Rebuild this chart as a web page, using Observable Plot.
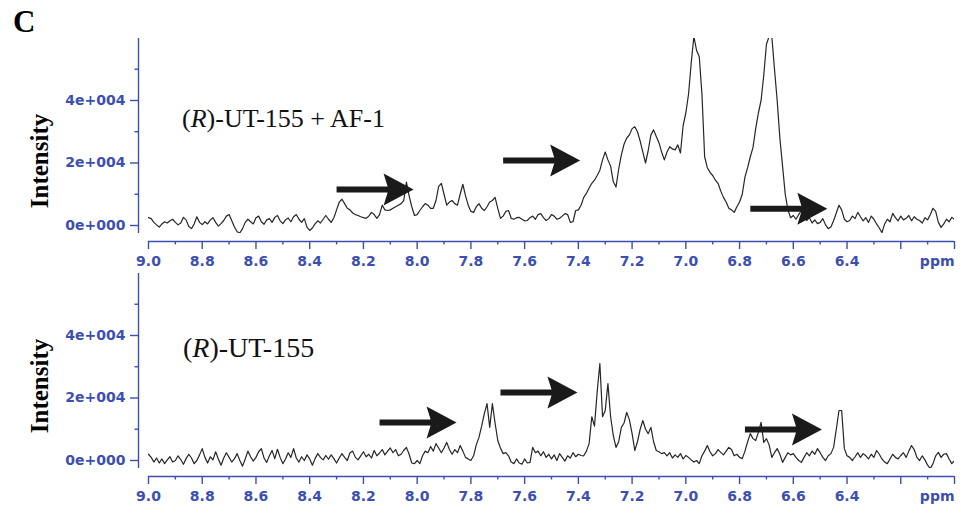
<!DOCTYPE html>
<html><head><meta charset="utf-8">
<script src="https://cdn.jsdelivr.net/npm/d3@7"></script>
<script src="https://cdn.jsdelivr.net/npm/@observablehq/plot@0.6"></script>
<style>
body{margin:0;background:#fff;}
#wrap{position:relative;width:963px;height:516px;overflow:hidden;background:#fff;}
#wrap svg{position:absolute;left:0;}
</style></head><body><div id="wrap"></div>
<script>
// chemical shift grid: 9.00 ppm down to 6.00 ppm, one value per 0.01 ppm
const ppmStart = 9.0;
const ppmStep = 0.01;

// intensities in units of 1e3
const topIntensity = [
  2.5, 2.2, 1.0, 0.2, -0.5, 0.5, 1.2, 0.8, 1.5, 2.0,
  1.0, 0.2, 0.8, 2.6, 1.8, -0.3, -1.0, 0.5, 2.8, 1.0,
  0.3, 1.2, 0.5, 1.8, 2.5, 1.0, -0.2, 0.6, 1.6, 3.0,
  3.5, 1.5, -0.5, -2.0, -2.4, -1.0, 1.0, 2.0, 1.2, 0.5,
  2.5, 3.0, 1.2, 0.4, 1.8, 2.2, 1.0, 2.6, 3.2, 1.5,
  0.6, 1.8, 2.4, 1.2, 2.8, 3.5, 2.0, 1.0, 2.2, -0.5,
  -1.6, -0.8, 0.5, 1.5, 0.8, 2.0, 3.2, 2.0, 1.0, 2.5,
  5.0, 7.5, 8.4, 7.0, 5.5, 5.0, 4.0, 3.5, 3.2, 2.8,
  2.5, 2.3, 3.0, 4.2, 3.5, 2.3, 3.5, 6.5, 5.0, 4.8,
  5.0, 5.5, 6.0, 6.5, 7.0, 8.0, 13.9, 9.5, 6.0, 3.2,
  3.5, 4.8, 6.0, 7.0, 6.5, 5.5, 5.5, 8.0, 12.5, 13.5,
  10.0, 6.5, 7.5, 8.0, 7.0, 6.5, 10.0, 13.2, 9.5, 6.5,
  4.5, 4.2, 6.0, 7.0, 5.5, 4.8, 6.0, 7.5, 8.0, 9.0,
  5.5, 2.3, 3.0, 4.5, 4.8, 2.3, 2.0, 2.5, 2.6, 2.0,
  1.5, 1.6, 2.5, 3.0, 2.0, 3.5, 3.8, 2.5, 1.6, 2.2,
  3.5, 3.0, 2.0, 2.3, 3.0, 3.8, 3.5, 1.0, 1.2, 4.8,
  5.0, 6.5, 9.0, 10.3, 12.0, 13.5, 14.5, 16.0, 17.7, 21.0,
  23.5, 21.0, 19.0, 14.0, 12.3, 18.0, 22.6, 26.0, 28.0, 29.0,
  31.0, 31.6, 30.0, 27.0, 23.5, 20.0, 24.0, 29.0, 30.6, 28.5,
  26.5, 23.5, 21.0, 23.5, 25.2, 24.5, 24.2, 25.8, 23.2, 32.0,
  36.0, 42.0, 52.0, 60.5, 56.0, 54.0, 42.0, 22.0, 18.5, 17.0,
  16.0, 14.5, 13.5, 11.0, 9.0, 7.5, 5.5, 5.0, 4.2, 6.0,
  7.5, 10.0, 15.5, 18.5, 22.0, 25.0, 31.0, 36.0, 40.0, 48.0,
  58.0, 60.5, 60.5, 50.0, 40.0, 28.0, 19.0, 10.0, 5.0, 2.5,
  3.2, 2.0, 3.5, 4.8, 3.0, 1.6, 2.5, 0.8, 1.8, 0.6,
  1.0, 2.2, 0.2, -1.0, -0.5, 1.5, 4.0, 6.5, 5.0, 2.0,
  1.2, 1.6, 3.0, 2.2, 4.2, 2.8, 1.5, 2.5, 1.0, 3.0,
  2.0, 0.5, -0.8, -2.3, 0.5, 2.0, 1.2, 3.9, 2.5, 1.5,
  3.0, 1.8, 2.3, 3.2, 1.5, 2.8, 2.0, 1.6, 0.8, 2.5,
  1.8, 3.5, 5.5, 4.5, 1.0, -0.6, 0.5, 2.0, 1.2, 2.6,
  2.0
];
const bottomIntensity = [
  2.0, 1.0, -0.5, 0.8, -0.8, 0.5, -1.0, 0.2, 1.2, -0.5,
  0.0, 1.5, 0.3, -1.2, 0.6, 2.0, 0.8, -1.0, 0.0, 1.8,
  3.8, 1.0, -0.8, 1.2, 0.2, 2.8, 0.5, -1.5, 0.8, 2.5,
  1.0, -0.5, 0.6, 2.2, 0.0, -1.8, 0.5, 3.0, 1.2, -0.2,
  1.0, 2.8, 3.8, 0.8, -0.6, 1.5, 3.2, 0.6, 3.6, 1.0,
  -1.0, 0.5, 2.5, 1.0, 3.8, 0.8, -0.5, 1.2, 0.0, 1.8,
  0.5, -1.5, 0.6, 2.2, 1.0, 0.2, 1.6, 0.4, 1.8, 0.6,
  -0.8, 0.8, 2.2, 1.0, 0.0, 2.5, 3.0, 1.0, 0.2, 1.5,
  2.8, 1.2, 2.0, 0.8, 3.2, 1.5, 2.4, 3.5, 1.8, 3.0,
  4.0, 2.5, 3.5, 1.5, 2.0, 3.2, 4.2, 2.0, -0.8, -1.0,
  0.0, -1.0, 1.5, 3.0, 2.5, 4.5, 3.0, 5.4, 4.0, 2.5,
  4.0, 5.8, 3.5, 2.0, 3.5, 2.5, 4.8, 3.0, 1.0, 0.5,
  0.0, 1.5, 5.0, 7.4, 11.0, 15.0, 18.2, 10.6, 18.2, 12.0,
  6.4, 4.0, 2.2, 2.5, 1.5, -0.5, -1.0, 0.5, -0.8, -1.2,
  0.5, -0.8, -0.6, 4.2, 2.5, 3.0, 1.5, 2.8, 1.0, 2.0,
  0.5, 1.8, 0.0, 2.2, 1.0, -0.2, 1.5, 0.8, 2.5, 1.2,
  2.0, 1.6, 1.5, 3.0, 5.4, 14.0, 11.0, 22.0, 31.0, 14.0,
  16.0, 24.6, 14.0, 8.0, 4.2, 6.0, 10.6, 12.0, 15.4, 13.0,
  8.6, 3.2, 6.0, 10.0, 12.8, 10.0, 8.6, 10.6, 6.0, 3.2,
  2.8, 2.2, 2.5, 1.5, 2.5, 0.8, 1.8, 1.0, 2.2, 0.5,
  1.6, 1.0, 0.2, -0.5, 0.0, -1.0, 1.5, 3.0, 4.8, 2.8,
  1.5, 2.2, 3.5, 2.6, 1.8, 3.0, 4.2, 3.5, 1.5, 2.0,
  1.0, 0.6, 3.0, 6.0, 8.6, 7.0, 6.4, 9.0, 12.2, 5.8,
  7.0, 5.0, 1.0, 2.5, 3.8, 2.0, -0.6, 1.0, 2.5, 1.8,
  2.2, 1.0, 0.0, -0.6, 1.0, 2.5, 1.5, 3.0, 2.0, 3.8,
  2.5, 1.0, 0.0, 1.5, 2.2, 4.2, 10.0, 16.0, 16.0, 3.8,
  1.5, 1.0, 0.0, 1.2, 2.5, 1.0, 2.2, 1.5, 0.5, 2.0,
  1.0, 3.2, 2.0, 0.5, -0.5, -1.0, 0.5, 2.0, 1.0, 0.5,
  1.6, 2.5, 1.0, 3.0, 4.8, 3.5, 1.0, 0.0, 1.5, 0.2,
  -1.5, -2.6, -1.0, 1.5, 2.6, 1.0, 2.0, 2.2, 0.5, -1.0,
  0.0
];

// axes
const xDomain = [9.0, 6.0];
const xMajorTicks = [9.0, 8.8, 8.6, 8.4, 8.2, 8.0, 7.8, 7.6, 7.4, 7.2, 7.0, 6.8, 6.6, 6.4, 6.2, 6.0];
const xMajorLabels = ["9.0", "8.8", "8.6", "8.4", "8.2", "8.0", "7.8", "7.6", "7.4", "7.2", "7.0", "6.8", "6.6", "6.4", "", ""];
const xMinorTicks = [8.9, 8.7, 8.5, 8.3, 8.1, 7.9, 7.7, 7.5, 7.3, 7.1, 6.9, 6.7, 6.5, 6.3, 6.1];
const xUnitLabel = "ppm";
const yDomain = [-2.56, 59.84];
const yMajorTicks = [0, 20, 40];
const yMajorLabels = ["0e+000", "2e+004", "4e+004"];
const yMinorTicks = [10, 30, 50];
const yTitle = "Intensity";

// arrow annotations (start point in data coordinates)
const topArrowPpm = [8.30, 7.68, 6.76];
const topArrowInt = [11.5, 20.8, 5.4];
const bottomArrowPpm = [8.14, 7.69, 6.78];
const bottomArrowInt = [12.2, 21.8, 9.9];

const panelLabels = [["(", "R", ")-UT-155 + AF-1"], ["(", "R", ")-UT-155"]];
const figureLetter = "C";

const BLUE = "#3c4fb0";
const AXFONT = "DejaVu Sans";

const arrowShape = {
  draw(ctx, l) {
    const hl = 30, hw = 16, sw = 3, notch = 5;
    const yj = -l + hl - notch * (hw - sw) / hw;
    ctx.moveTo(-sw, 0);
    ctx.lineTo(-sw, yj);
    ctx.lineTo(-hw, -l + hl);
    ctx.lineTo(0, -l);
    ctx.lineTo(hw, -l + hl);
    ctx.lineTo(sw, yj);
    ctx.lineTo(sw, 0);
    ctx.closePath();
  }
};

function panel(values, arrowPpm, arrowInt) {
  const data = values.map((v, i) => ({ppm: ppmStart - i * ppmStep, v}));
  const arrows = arrowPpm.map((p, i) => ({ppm: p, v: arrowInt[i]}));
  return Plot.plot({
    width: 963, height: 270,
    marginTop: 38, marginBottom: 37, marginLeft: 148, marginRight: 9,
    style: {background: "transparent", overflow: "visible"},
    x: {domain: xDomain, label: null},
    y: {domain: yDomain, label: null},
    marks: [
      Plot.ruleX([xDomain[0]], {dx: -10, stroke: BLUE, strokeWidth: 1.4}),
      Plot.ruleY([yDomain[0]], {x1: xDomain[0], x2: xDomain[1], dy: 8, stroke: BLUE, strokeWidth: 1.4}),
      Plot.axisY({ticks: yMajorTicks, tickFormat: d => yMajorLabels[yMajorTicks.indexOf(d)],
        tickSize: 8, tickPadding: 5, dx: -10, stroke: BLUE, fill: BLUE, strokeWidth: 1.4,
        fontSize: 14, fontWeight: "bold", fontFamily: AXFONT}),
      Plot.axisY({ticks: yMinorTicks, tickFormat: () => "", tickSize: 3.5, dx: -10, stroke: BLUE, strokeWidth: 1.4}),
      Plot.axisX({ticks: xMajorTicks, tickFormat: d => xMajorLabels[xMajorTicks.findIndex(t => Math.abs(t - d) < 1e-9)],
        tickSize: 8, tickPadding: 7, dy: 8, stroke: BLUE, fill: BLUE, strokeWidth: 1.4,
        fontSize: 14, fontWeight: "bold", fontFamily: AXFONT}),
      Plot.axisX({ticks: xMinorTicks, tickFormat: () => "", tickSize: 3.5, dy: 8, stroke: BLUE, strokeWidth: 1.4}),
      Plot.text([xUnitLabel], {x: xDomain[1], frameAnchor: "bottom", textAnchor: "end", lineAnchor: "top",
        dy: 23, fill: BLUE, fontSize: 14, fontWeight: "bold", fontFamily: AXFONT}),
      Plot.line(data, {x: "ppm", y: "v", stroke: "#262626", strokeWidth: 1.2, clip: true}),
      Plot.vector(arrows, {x: "ppm", y: "v", length: 77, rotate: 90, anchor: "start",
        shape: arrowShape, fill: "#1a1a1a", stroke: "none"})
    ]
  });
}

const wrap = document.getElementById("wrap");
const p1 = panel(topIntensity, topArrowPpm, topArrowInt);
p1.style.top = "0px";
wrap.appendChild(p1);
const p2 = panel(bottomIntensity, bottomArrowPpm, bottomArrowInt);
p2.style.top = "235px";
wrap.appendChild(p2);

// text overlay
const ov = d3.create("svg").attr("width", 963).attr("height", 516)
  .style("position", "absolute").style("left", "0px").style("top", "0px");
ov.append("text").attr("x", 13).attr("y", 32)
  .attr("font-family", "Liberation Serif").attr("font-weight", "bold").attr("font-size", 31)
  .text(figureLetter);
[161, 386].forEach(cy => {
  ov.append("text").attr("transform", `translate(48,${cy}) rotate(-90)`)
    .attr("text-anchor", "middle").attr("font-family", "Liberation Serif")
    .attr("font-weight", "bold").attr("font-size", 25).text(yTitle);
});
[[182, 127, 26], [183, 357, 28]].forEach(([x, y, fs], k) => {
  const t = ov.append("text").attr("x", x).attr("y", y)
    .attr("font-family", "Liberation Serif").attr("font-size", fs).attr("fill", "#111");
  panelLabels[k].forEach((s, j) => {
    t.append("tspan").attr("font-style", j === 1 ? "italic" : "normal").text(s);
  });
});
wrap.appendChild(ov.node());
</script></body></html>
